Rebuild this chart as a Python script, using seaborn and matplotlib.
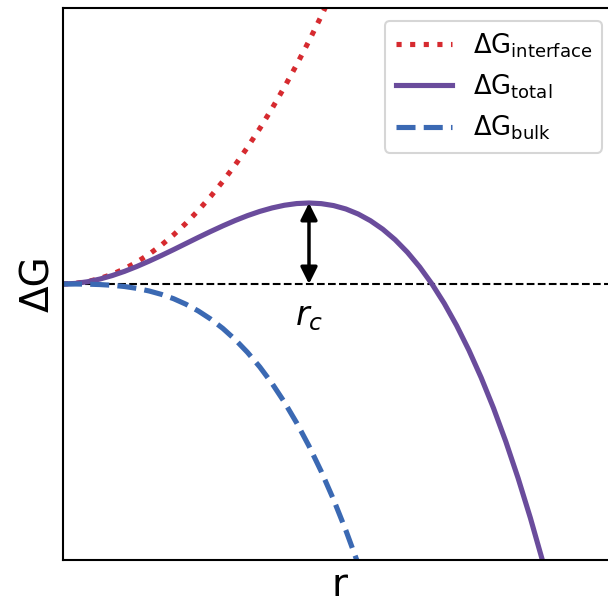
import matplotlib
matplotlib.use("Agg")
import matplotlib.pyplot as plt
import seaborn as sns
import pandas as pd

# Nucleus radius (in units of the critical radius r_c) and free-energy terms
# (in units of the barrier height)
r_interface = [0.0, 0.05, 0.1, 0.15, 0.2, 0.25, 0.3, 0.35, 0.4, 0.45, 0.5, 0.55,
               0.6, 0.65, 0.7, 0.75, 0.8, 0.85, 0.9, 0.95, 1.0, 1.05, 1.1, 1.15]
g_interface = [0.0, 0.008, 0.03, 0.068, 0.12, 0.188, 0.27, 0.368, 0.48, 0.608,
               0.75, 0.908, 1.08, 1.268, 1.47, 1.688, 1.92, 2.168, 2.43, 2.708,
               3.0, 3.308, 3.63, 3.968]

r_bulk = [0.0, 0.05, 0.1, 0.15, 0.2, 0.25, 0.3, 0.35, 0.4, 0.45, 0.5, 0.55,
          0.6, 0.65, 0.7, 0.75, 0.8, 0.85, 0.9, 0.95, 1.0, 1.05, 1.1, 1.15,
          1.2, 1.25]
g_bulk = [0.0, -0.0003, -0.002, -0.007, -0.016, -0.031, -0.054, -0.086, -0.128,
          -0.182, -0.25, -0.333, -0.432, -0.549, -0.686, -0.844, -1.024,
          -1.228, -1.458, -1.715, -2.0, -2.315, -2.662, -3.042, -3.456, -3.906]

r_total = [0.0, 0.05, 0.1, 0.15, 0.2, 0.25, 0.3, 0.35, 0.4, 0.45, 0.5, 0.55,
           0.6, 0.65, 0.7, 0.75, 0.8, 0.85, 0.9, 0.95, 1.0, 1.05, 1.1, 1.15,
           1.2, 1.25, 1.3, 1.35, 1.4, 1.45, 1.5, 1.55, 1.6, 1.65, 1.7, 1.75,
           1.8, 1.85, 1.9, 1.95, 2.0]
g_total = [0.0, 0.007, 0.028, 0.061, 0.104, 0.156, 0.216, 0.282, 0.352, 0.425,
           0.5, 0.575, 0.648, 0.718, 0.784, 0.844, 0.896, 0.939, 0.972, 0.993,
           1.0, 0.992, 0.968, 0.926, 0.864, 0.781, 0.676, 0.547, 0.392, 0.21,
           0.0, -0.24, -0.512, -0.817, -1.156, -1.531, -1.944, -2.396, -2.888,
           -3.422, -4.0]

r_critical = 1.0
g_barrier = 1.0

labels = ["ΔG$_{\\mathrm{interface}}$", "ΔG$_{\\mathrm{total}}$", "ΔG$_{\\mathrm{bulk}}$"]
colors = ["#d62a2f", "#6a4c9c", "#3b69b3"]

df_int = pd.DataFrame({"r": r_interface, "G": g_interface})
df_tot = pd.DataFrame({"r": r_total, "G": g_total})
df_blk = pd.DataFrame({"r": r_bulk, "G": g_bulk})

fig = plt.figure(figsize=(6.08, 6.03), dpi=100)
ax = fig.add_axes([63 / 608, 1 - 560 / 603, (615 - 63) / 608, (560 - 8) / 603])

lw = 3.7
sns.lineplot(data=df_int, x="r", y="G", ax=ax, color=colors[0], lw=lw,
             linestyle=":", label=labels[0])
sns.lineplot(data=df_tot, x="r", y="G", ax=ax, color=colors[1], lw=lw,
             linestyle="-", label=labels[1])
sns.lineplot(data=df_blk, x="r", y="G", ax=ax, color=colors[2], lw=lw,
             linestyle="--", label=labels[2])

ax.axhline(0, color="black", lw=1.5, ls="--", zorder=1)

ax.annotate("", xy=(r_critical, g_barrier), xytext=(r_critical, 0),
            arrowprops=dict(arrowstyle="<|-|>", color="black", lw=2.5,
                            mutation_scale=25, shrinkA=0, shrinkB=0))
ax.text(r_critical, -0.2, "$r_c$", ha="center", va="top", fontsize=24)

ax.set_xlim(0, 2.244)
ax.set_ylim(-3.407, 3.407)
ax.set_xticks([])
ax.set_yticks([])
ax.set_xlabel("r", fontsize=28)
ax.set_ylabel("ΔG", fontsize=28)
ax.spines["right"].set_visible(False)
for s in ("left", "bottom", "top"):
    ax.spines[s].set_linewidth(1.5)
    ax.spines[s].set_color("black")

leg = ax.legend(loc="upper right", fontsize=18.5, handlelength=2.2,
                frameon=True, fancybox=True)
leg.get_frame().set_edgecolor("#cccccc")
leg.get_frame().set_linewidth(1.5)

fig.savefig("out.png", dpi=100)
